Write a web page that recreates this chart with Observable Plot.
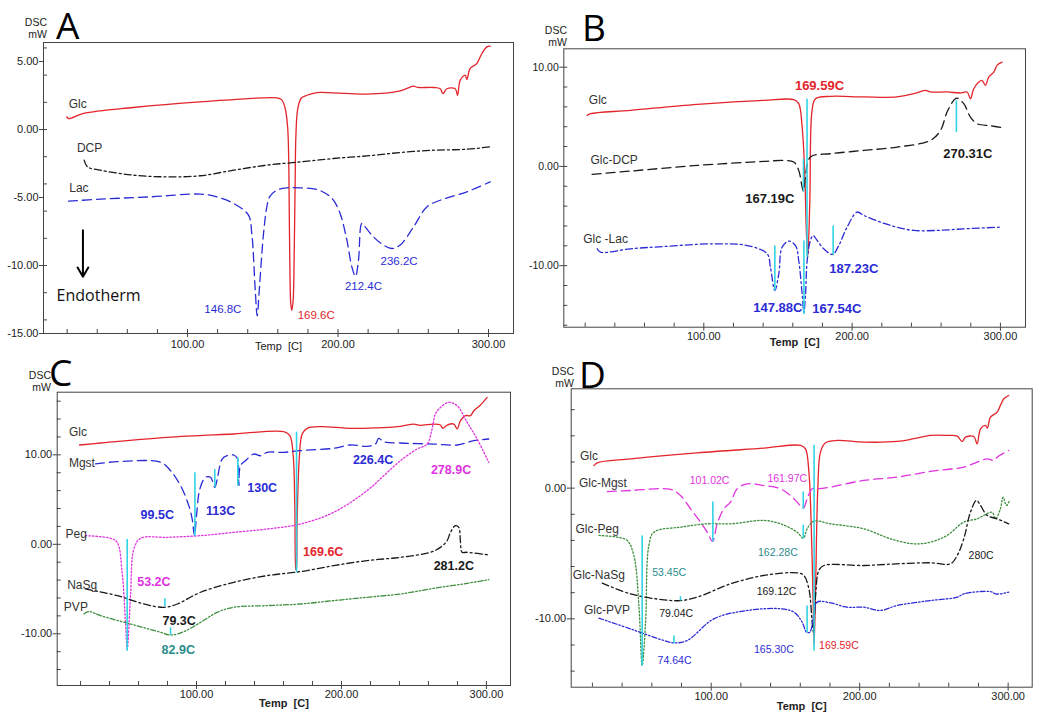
<!DOCTYPE html>
<html><head><meta charset="utf-8">
<script src="https://cdn.jsdelivr.net/npm/d3@7"></script>
<script src="https://cdn.jsdelivr.net/npm/@observablehq/plot@0.6"></script>
<style>
body{margin:0;background:#fff;}
#wrap{position:relative;width:1052px;height:715px;overflow:hidden;background:#fff;font-family:"Liberation Sans",Arial,sans-serif;}
.panel{position:absolute;overflow:hidden;z-index:1;}
.letter{position:absolute;z-index:5;font-family:"Open Sans",sans-serif;font-size:37px;line-height:1;color:#000;}
.dsc{position:absolute;z-index:5;font-size:10.5px;line-height:12px;color:#222;text-align:right;width:27px;}
</style></head><body><div id="wrap">
<div class="letter" style="left:56px;top:6px">A</div>
<div class="letter" style="left:582px;top:8px">B</div>
<div class="letter" style="left:49px;top:353px">C</div>
<div class="letter" style="left:579px;top:355px">D</div>
<div class="dsc" style="left:20px;top:16px">DSC<br>mW</div>
<div class="dsc" style="left:540px;top:24px">DSC<br>mW</div>
<div class="dsc" style="left:24px;top:369px">DSC<br>mW</div>
<div class="dsc" style="left:547px;top:365px">DSC<br>mW</div>
</div>
<script>
// ---------- Panel A data ----------
const aGlc = [[19.8,0.93],[21,0.8],[30.9,1.18],[64,1.62],[108.4,2.03],[159.4,2.33],[162.5,2.2],[164.8,1.6],[166.5,0.2],[167.2,-2],[167.6,-6],[168.0,-10],[168.6,-12.8],[169.3,-13.3],[170.2,-12.5],[170.9,-9],[171.5,-4],[172,-0.5],[173.2,1.5],[175.5,2.3],[179.3,2.52],[186,2.72],[197,2.7],[219.2,2.6],[241.3,2.84],[250.2,3.19],[253,3.1],[263.5,3.09],[267.9,3.0],[269.7,2.65],[272.3,3.0],[277.9,3.0],[279.4,2.52],[281.2,3.63],[284.5,4.0],[285.6,3.68],[287.8,4.49],[292.2,4.85],[295.6,5.59],[298.9,6.08],[301.1,6.13]];
const aDCP = [[31.3,-2.25],[33.6,-2.75],[42,-2.99],[64.1,-3.36],[86.3,-3.48],[108.4,-3.4],[130.6,-2.99],[152.7,-2.62],[174.9,-2.38],[197,-2.13],[219.2,-1.94],[241.3,-1.69],[263.5,-1.52],[285.6,-1.45],[301.1,-1.27]];
const aLac = [[20.9,-5.27],[42,-5.12],[75.2,-4.95],[108.4,-4.75],[119.5,-4.95],[130.6,-5.44],[140.5,-6.3],[142.7,-7.65],[145,-11.8],[146.3,-13.7],[147.8,-11.6],[150.5,-7.65],[152.7,-5.69],[154.5,-4.95],[159.4,-4.46],[166,-4.29],[174.9,-4.29],[186,-4.41],[193.7,-4.83],[197,-5.2],[201.4,-6.18],[205.9,-8.14],[209.2,-10.1],[211.6,-10.8],[213.6,-9.6],[215.8,-6.9],[218,-7.16],[223.6,-7.9],[230.2,-8.5],[235.8,-8.75],[241.3,-8.5],[250.2,-7.16],[259,-5.69],[267.9,-5.2],[285.6,-4.58],[301.1,-3.85]];
const aNames = [{t:"Glc",x:21,y:1.9},{t:"DCP",x:26.5,y:-1.4},{t:"Lac",x:21.4,y:-4.34}];
const aPeaks = [{t:"146.8C",x:123.5,y:-13.2,s:"blue"},{t:"169.6C",x:185.5,y:-13.65,s:"red"},{t:"212.4C",x:216.9,y:-11.5,s:"blue"},{t:"236.2C",x:240.6,y:-9.66,s:"blue"}];
const aArrow = [{x:30.5,y1:-7.4,y2:-10.83}];
const aNote = [{t:"Endotherm",x:40.9,y:-12.2}];

// ---------- Panel B data ----------
const bGlc = [[21.3,5.14],[23.6,5.31],[50.6,5.65],[95.5,6.25],[140.4,6.66],[160.7,6.72],[164,6.32],[166.3,3.97],[167.9,-0.07],[169.2,-6.8],[170.1,-9.1],[171.5,-3.4],[173,5.65],[175.3,6.82],[185.4,7.06],[207.9,7.0],[230.3,7.0],[241.6,7.33],[249.4,7.66],[252.8,7.5],[264,7.5],[273,7.4],[277.5,7.5],[279.8,6.82],[282,7.83],[285.4,8.5],[287.6,8.67],[289.9,8.17],[292.1,9.0],[295.5,9.5],[297.8,10.2],[301.1,10.5]];
const bDCP = [[24.7,-0.8],[50.6,-0.47],[95.5,0.1],[140.4,0.5],[153.9,0.6],[160.7,0.44],[164,-0.4],[166.3,-2.08],[167.2,-2.49],[168.5,-1.08],[171.9,0.94],[185.4,1.28],[207.9,1.61],[230.3,1.95],[252.8,2.62],[259.6,3.63],[264,5.48],[268.5,6.66],[270.5,6.89],[275.3,6.32],[279.8,4.97],[284.3,4.3],[293.3,4.1],[301.1,3.9]];
const bLac = [[28.1,-8.3],[30.3,-8.64],[50.6,-8.3],[73,-8.07],[106.7,-7.8],[129.2,-7.97],[142.7,-8.8],[144.9,-10.15],[147.9,-12.5],[150.6,-10.8],[152.8,-8.13],[157.3,-7.53],[161.8,-7.97],[164,-9.48],[166.3,-12.84],[167.5,-14.7],[168.6,-12.8],[169.7,-9.48],[171.9,-7.46],[173.7,-6.96],[176.4,-7.46],[180.9,-8.3],[186.8,-8.87],[191,-7.97],[196.6,-6.12],[203.4,-4.6],[207.9,-4.94],[219.1,-5.61],[230.3,-6.12],[241.6,-6.45],[257.3,-6.45],[275.3,-6.29],[300,-6.12]];
const bMarks = [[169.6,6.82,-9.1],[167.2,0.77,-2.5],[270.3,6.66,3.46],[147.9,-7.97,-12.5],[167.5,-7.46,-14.86],[187.2,-5.95,-8.87]];
const bNames = [{t:"Glc",x:22.5,y:6.66},{t:"Glc-DCP",x:23.6,y:0.6},{t:"Glc -Lac",x:18.7,y:-7.3}];
const bPeaks = [{t:"169.59C",x:178,y:8.07,s:"red"},{t:"167.19C",x:144.5,y:-3.26,s:"black"},{t:"270.31C",x:278,y:1.28,s:"black"},{t:"147.88C",x:149.9,y:-14.2,s:"blue"},{t:"167.54C",x:189.7,y:-14.35,s:"blue"},{t:"187.23C",x:201.1,y:-10.3,s:"blue"}];

// ---------- Panel C data ----------
const cGlc = [[19.3,11.1],[33.8,11.32],[79.8,11.96],[125.7,12.33],[160.2,12.59],[164.4,12.14],[166.7,9.9],[167.8,4.3],[168.5,-2.76],[168.9,-2.94],[169.4,2.46],[171,9.9],[172.9,12.33],[176.3,12.96],[185.5,13.15],[206.2,12.96],[229.2,13.04],[240.7,13.18],[249.9,13.44],[254,13.3],[263.7,13.44],[268.3,13.33],[269.9,12.96],[272.9,13.33],[277.5,13.44],[279.8,12.89],[282.1,13.82],[285.5,14.38],[289,14.38],[291.3,14.93],[295.9,15.57],[300.5,16.42]];
const cMgst = [[30.3,8.98],[45.3,9.24],[75.2,9.16],[82.1,8.23],[89,6.55],[94.7,4.32],[97,2.83],[98.6,0.97],[100,3.2],[102.3,6.18],[106.2,7.49],[109.7,7.49],[112.6,6.37],[114.3,7.3],[117.7,9.53],[121.1,9.9],[125.7,9.98],[128.3,9.53],[129.2,6.55],[130.3,8.79],[133.8,9.35],[139.5,10.09],[144.1,9.9],[148.7,10.28],[160.2,10.28],[171.7,10.47],[194.7,10.73],[206.2,11.1],[217.7,10.95],[223.4,11.2],[225.7,11.84],[229.2,11.47],[240.7,11.32],[263.7,11.2],[279.8,11.1],[291.3,11.58],[301.6,11.77]];
const cPeg = [[23.4,0.97],[40.7,0.67],[45.3,0.22],[48.7,-3.13],[51,-8.7],[52.2,-11.7],[54.5,-5.74],[56.8,-0.52],[61.4,0.67],[79.8,0.78],[102.8,0.97],[125.7,1.34],[148.7,1.71],[171.7,2.27],[194.7,3.58],[217.7,6.0],[229.2,7.67],[240.7,9.35],[252.2,10.65],[259.1,11.2],[262.5,12.89],[264.8,14.56],[268.3,15.3],[274,15.87],[279.8,15.49],[286.7,13.63],[293.6,11.77],[301.6,9.16]];
const cNaSg = [[23.4,-4.99],[45.3,-5.74],[63.7,-6.67],[77.5,-7.04],[86.7,-6.67],[102.8,-5.36],[125.7,-4.25],[148.7,-3.5],[171.7,-3.05],[194.7,-2.38],[217.7,-1.82],[240.7,-1.45],[261.4,-0.89],[268.3,-0.34],[272.9,0.41],[275.2,1.34],[278.6,2.09],[280.9,1.9],[282.1,0.22],[283.2,-0.89],[286.7,-0.89],[301.6,-1.19]];
const cPVP = [[22.3,-7.78],[25.7,-7.52],[33.8,-7.97],[56.8,-9.01],[75.2,-9.83],[82.1,-10.13],[91.3,-9.76],[102.8,-8.72],[114.3,-7.6],[125.7,-7.04],[148.7,-6.85],[171.7,-6.67],[194.7,-6.29],[217.7,-5.92],[240.7,-5.55],[263.7,-4.92],[286.7,-4.36],[301.6,-3.95]];
const cMarks = [[169,12.59,-3.13],[98.9,8.04,0.97],[112.6,8.42,6.37],[128.5,9.72,6.55],[52.2,0.6,-11.9],[78.2,-6.03,-6.93],[82.1,-9.27,-10.13]];
const cNames = [{t:"Glc",x:12,y:12.59},{t:"Mgst",x:12,y:9.09},{t:"Peg",x:9.7,y:1.08},{t:"NaSg",x:10.8,y:-4.62},{t:"PVP",x:8.5,y:-7.04}];
const cPeaks = [{t:"99.5C",x:72.9,y:3.28,s:"blue"},{t:"113C",x:116.6,y:3.76,s:"blue"},{t:"130C",x:145.3,y:6.26,s:"blue"},{t:"226.4C",x:221.8,y:9.42,s:"blue"},{t:"278.9C",x:275.6,y:8.34,s:"magenta"},{t:"169.6C",x:187.4,y:-0.89,s:"red"},{t:"281.2C",x:277.5,y:-2.46,s:"black"},{t:"53.2C",x:70.6,y:-4.17,s:"magenta"},{t:"79.3C",x:88,y:-8.6,s:"black"},{t:"82.9C",x:87.4,y:-11.77,s:"teal"}];

// ---------- Panel D data ----------
const dGlc = [[21,1.73],[23.2,1.94],[45.7,2.24],[90.6,2.7],[135.5,3.06],[160.2,3.27],[163.5,3.0],[165.8,1.22],[167.3,-2.6],[168.7,-8.98],[169.3,-12.04],[170.3,-7.7],[171.8,-0.05],[173.6,2.76],[177,3.47],[184.8,3.65],[202.8,3.52],[225.2,3.57],[236.5,3.78],[247.7,4.03],[258.9,4.03],[265.7,3.98],[269,3.57],[271.3,3.9],[276.9,3.95],[279.1,3.39],[281.4,4.54],[284.7,4.8],[286,4.6],[288.1,5.43],[292.6,5.82],[294.8,6.33],[297.1,6.84],[300.4,7.09]];
const dMgst = [[30,-0.26],[45.7,-0.18],[72.6,-0.1],[79.3,-0.56],[86.1,-1.58],[92.8,-2.6],[97.3,-3.37],[100.9,-4.08],[104,-2.73],[108.5,-1.58],[113,-1.07],[117.5,-0.05],[124.2,0.33],[135.5,0.2],[146.7,-0.05],[153.4,-0.56],[157.9,-1.07],[162,-1.53],[164.6,-0.82],[168,-0.05],[171.4,-0.05],[180.4,0.08],[202.8,0.59],[225.2,0.84],[247.7,1.28],[270.1,1.61],[285.9,2.24],[290.3,2.12],[292.6,2.37],[300.4,2.88]];
const dPeg = [[24.4,-3.62],[36.7,-3.75],[43.4,-4.0],[47.9,-5.15],[51.3,-8.98],[53.5,-13.57],[55.8,-10.26],[58,-4.39],[61.4,-3.37],[79.3,-2.98],[97.3,-2.73],[113,-2.73],[135.5,-2.47],[146.7,-2.73],[157.9,-3.37],[162,-3.83],[164.6,-3.11],[169.1,-2.53],[180.4,-2.73],[202.8,-3.11],[220.8,-3.88],[236.5,-4.26],[247.7,-4.13],[258.9,-3.62],[270.1,-2.6],[279.1,-2.35],[283.6,-2.09],[289.2,-1.84],[291.5,-2.35],[294.8,-1.58],[296.6,-0.69],[298.9,-1.33],[300.9,-0.94]];
const dNaSg = [[26.6,-7.27],[45.7,-8.09],[68.1,-8.55],[79.3,-8.6],[90.6,-8.34],[113,-7.32],[135.5,-6.68],[157.9,-6.48],[162.4,-6.68],[165.8,-7.7],[168,-10.26],[168.9,-11.02],[170.3,-8.21],[172.5,-6.3],[175.9,-5.92],[202.8,-5.92],[225.2,-5.79],[247.7,-5.71],[261.2,-5.79],[265.7,-5.15],[270.1,-3.88],[274.6,-1.84],[278.7,-0.94],[281.4,-1.33],[285.9,-2.09],[292.6,-2.35],[300.4,-2.73]];
const dPVP = [[24.4,-9.95],[45.7,-10.77],[68.1,-11.66],[74.9,-11.84],[83.8,-11.66],[101.8,-10.0],[124.2,-9.36],[146.7,-9.23],[155.7,-9.49],[161.3,-10.26],[164.2,-11.02],[166.4,-11.02],[169.1,-9.74],[171.4,-8.72],[180.4,-8.78],[191.6,-9.11],[202.8,-9.11],[214,-9.36],[225.2,-8.98],[247.7,-8.6],[265.7,-8.34],[270.1,-8.09],[288.1,-7.91],[292,-8.1],[300.4,-7.96]];
const dMarks = [[169.3,3.32,-12.42],[53.5,-3.62,-13.57],[101.1,-1.02,-4.08],[162,-0.26,-1.58],[162,-2.8,-3.83],[79.3,-8.27,-8.6],[74.9,-11.28,-11.84],[164.6,-8.98,-11.02]];
const dNames = [{t:"Glc",x:11.6,y:2.45},{t:"Glc-Mgst",x:10.9,y:0.41},{t:"Glc-Peg",x:8.6,y:-3.16},{t:"Glc-NaSg",x:6.8,y:-6.68},{t:"Glc-PVP",x:14.3,y:-9.36}];
const dPeaks = [{t:"101.02C",x:98.9,y:0.59,s:"magenta"},{t:"161.97C",x:151.2,y:0.71,s:"magenta"},{t:"162.28C",x:144.9,y:-4.9,s:"teal"},{t:"53.45C",x:71.7,y:-6.43,s:"teal"},{t:"169.12C",x:144,y:-7.91,s:"black"},{t:"280C",x:281.8,y:-5.15,s:"black"},{t:"79.04C",x:76.4,y:-9.62,s:"black"},{t:"74.64C",x:75.3,y:-13.19,s:"blue"},{t:"165.30C",x:142.2,y:-12.35,s:"blue"},{t:"169.59C",x:186,y:-12.04,s:"red"}];

// ---------- styles ----------
const COL = {red:"#e3242b", blue:"#2b2bd6", black:"#1a1a1a", magenta:"#e033e0", green:"#3f8f3f", teal:"#2a8c8c", cyan:"#2fd4e4", name:"#333"};
const DASH = {solid:null, dash:"9,5", dashdot:"7,3,2,3", dashdot2:"5,2,1.5,2,1.5,2", dot:"1.5,2"};

function panel(o) {
  const wrap = document.getElementById("wrap");
  const div = document.createElement("div");
  div.className = "panel";
  Object.assign(div.style, {left:o.left+"px", top:o.top+"px", width:o.width+"px", height:o.height+"px"});
  const [x0,x1] = o.xd, [y0,y1] = o.yd;
  const innerH = o.height - o.mt - o.mb, innerW = o.width - o.ml - o.mr;
  const tickLenY = 4 * (y1 - y0) / innerH;   // 4px in y units
  const tickLenX = 4 * (x1 - x0) / innerW;   // 4px in x units
  const xMinor = d3.range(20, 301, 20);
  const yMinor = d3.range(Math.ceil(y0/2)*2, y1, 2);
  const marks = [
    Plot.ruleX(xMinor, {x: d=>d, y1: y0, y2: y0 + tickLenY, stroke:"#444"}),
    Plot.ruleY(yMinor, {y: d=>d, x1: x0, x2: x0 + tickLenX, stroke:"#444"}),
    Plot.axisX({ticks:[100,200,300], tickFormat:d=>d.toFixed(2), tickSize:4, tickPadding:o.xpad, stroke:"#444", fill:"#222", label:null}),
    Plot.axisY({ticks:o.yticks, tickFormat:d=>d.toFixed(2), tickSize:4, tickPadding:1, stroke:"#444", fill:"#222", label:null, fontSize:o.yFont || 11}),
    Plot.text(["Temp  [C]"], {frameAnchor:"bottom", dy:o.labelDy, text:d=>d, fontSize:11, fill:"#222", fontWeight:o.labelBold ? "bold" : "normal"})
  ];
  for (const s of o.series) {
    marks.push(Plot.line(s.data, {x:d=>d[0], y:d=>d[1], stroke:COL[s.c], strokeWidth:s.w || 1.3, strokeDasharray:DASH[s.d], curve:"catmull-rom"}));
  }
  if (o.marksData) marks.push(Plot.link(o.marksData, {x1:d=>d[0], x2:d=>d[0], y1:d=>d[1], y2:d=>d[2], stroke:COL.cyan, strokeWidth:1.6}));
  if (o.extra) marks.push(...o.extra);
  marks.push(Plot.text(o.names, {x:"x", y:"y", text:"t", textAnchor:"start", fill:COL.name, fontSize:o.nameSize || 12}));
  marks.push(Plot.text(o.peaks, {x:"x", y:"y", text:"t", fill:d=>COL[d.s], fontSize:o.peakSize, fontWeight:o.peakBold ? "bold" : "normal"}));
  marks.push(Plot.frame({stroke:"#444", strokeWidth:1}));
  const svg = Plot.plot({
    width:o.width, height:o.height,
    marginLeft:o.ml, marginRight:o.mr, marginTop:o.mt, marginBottom:o.mb,
    x:{domain:o.xd}, y:{domain:o.yd},
    style:{fontFamily:"'Liberation Sans', Arial, sans-serif", fontSize:"11px", background:"white", color:"#222"},
    marks
  });
  div.appendChild(svg);
  wrap.appendChild(div);
}

panel({left:0, top:0, width:525, height:355, ml:43, mr:12, mt:42, mb:22, xd:[4.3,316.6], yd:[-15,6.4], yticks:[5,0,-5,-10,-15], xpad:3, labelDy:16,
  series:[{data:aGlc,c:"red",d:"solid"},{data:aDCP,c:"black",d:"dashdot"},{data:aLac,c:"blue",d:"dash"}],
  names:aNames, peaks:aPeaks, peakSize:11.5, peakBold:false,
  extra:[
    Plot.arrow(aArrow, {x1:"x", x2:"x", y1:"y1", y2:"y2", stroke:"#000", strokeWidth:2, headLength:8}),
    Plot.text(aNote, {x:"x", y:"y", text:"t", fontFamily:"'Open Sans', sans-serif", fontSize:16, fill:"#111"})
  ]});

panel({left:526, top:0, width:526, height:355, ml:37.3, mr:27, mt:48.3, mb:28.3, xd:[5.6,316.9], yd:[-16.2,11.85], yticks:[10,0,-10], xpad:1, labelDy:19, labelBold:true, yFont:10.5,
  series:[{data:bGlc,c:"red",d:"solid"},{data:bDCP,c:"black",d:"dash"},{data:bLac,c:"blue",d:"dashdot"}],
  marksData:bMarks, names:bNames, peaks:bPeaks, peakSize:13, peakBold:true});

panel({left:0, top:355, width:525, height:360, ml:56.7, mr:15, mt:36.7, mb:30, xd:[3.9,316.6], yd:[-15.78,17.0], yticks:[10,0,-10], xpad:1, labelDy:21, labelBold:true,
  series:[{data:cGlc,c:"red",d:"solid"},{data:cMgst,c:"blue",d:"dash"},{data:cPeg,c:"magenta",d:"dot"},{data:cNaSg,c:"black",d:"dashdot"},{data:cPVP,c:"green",d:"dashdot2"}],
  marksData:cMarks, names:cNames, peaks:cPeaks, peakSize:12.5, peakBold:true});

panel({left:530, top:355, width:522, height:360, ml:40.7, mr:20.3, mt:33.3, mb:28.3, xd:[5.7,316.2], yd:[-15.23,7.6], yticks:[0,-10], xpad:1, labelDy:23, labelBold:true,
  series:[{data:dGlc,c:"red",d:"solid"},{data:dMgst,c:"magenta",d:"dash"},{data:dPeg,c:"green",d:"dot"},{data:dNaSg,c:"black",d:"dashdot"},{data:dPVP,c:"blue",d:"dashdot2"}],
  marksData:dMarks, names:dNames, peaks:dPeaks, peakSize:10.5, peakBold:false});
</script></body></html>
